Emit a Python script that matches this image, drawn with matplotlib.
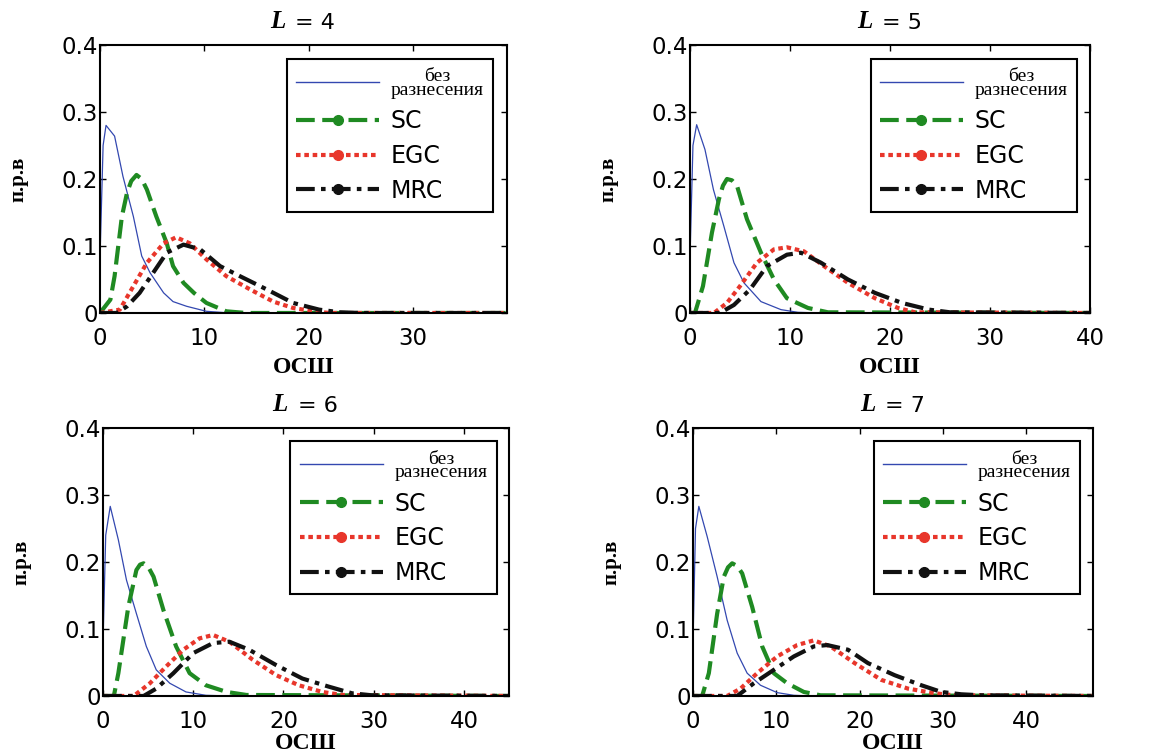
#!/usr/bin/env python3
# PDF of output SNR for SC / EGC / MRC diversity, L = 4..7

import matplotlib
matplotlib.use('Agg')
import matplotlib.pyplot as plt
from matplotlib.lines import Line2D

plt.rcParams['font.family'] = ['DejaVu Sans']

# --- data, one set per panel ---
L_values = [4, 5, 6, 7]
x_limits = [39, 40, 45, 48]
x_ticks = [[0, 10, 20, 30], [0, 10, 20, 30, 40], [0, 10, 20, 30, 40], [0, 10, 20, 30, 40]]

# no diversity
nodiv_x = [
    [0, 0.3, 0.58, 1.4, 2.2, 3.2, 4.0, 4.8, 6.1, 7.0, 8.3, 10.2, 12, 14, 39],
    [0, 0.3, 0.67, 1.5, 2.35, 3.4, 4.4, 5.4, 7.1, 9.1, 10.8, 13, 40],
    [0, 0.3, 0.8, 1.7, 2.6, 3.7, 4.8, 5.9, 7.4, 9.2, 11.4, 14, 45],
    [0, 0.3, 0.7, 1.7, 2.9, 4.1, 5.3, 6.5, 8.1, 10.1, 12.1, 14, 48],
]
nodiv_y = [
    [0.08, 0.25, 0.28, 0.264, 0.204, 0.144, 0.085, 0.06, 0.03, 0.017, 0.01, 0.0025, 0.0005, 0, 0],
    [0.08, 0.25, 0.281, 0.244, 0.184, 0.129, 0.075, 0.045, 0.017, 0.005, 0.001, 0, 0],
    [0.08, 0.24, 0.283, 0.233, 0.173, 0.123, 0.074, 0.039, 0.019, 0.006, 0.001, 0, 0],
    [0.08, 0.25, 0.283, 0.238, 0.178, 0.113, 0.064, 0.034, 0.016, 0.005, 0.001, 0, 0],
]

sc_x = [
    [0, 1.0, 1.4, 2.1, 2.6, 3.0, 3.5, 4.0, 4.5, 5.4, 6.4, 7.0, 8.0, 9.0, 10.2, 12.1, 14, 39],
    [0, 0.5, 1.3, 2.2, 2.9, 3.3, 3.7, 4.2, 4.7, 5.7, 7.1, 8.4, 9.7, 11.8, 13.8, 40],
    [0, 1.2, 1.7, 2.8, 3.7, 4.1, 4.5, 5.0, 5.6, 6.7, 8.1, 9.6, 11.4, 13.7, 15.9, 45],
    [0, 1.1, 1.9, 2.9, 3.7, 4.2, 4.7, 5.3, 5.9, 7.1, 8.3, 9.7, 11.3, 13.3, 15.3, 48],
]
sc_y = [
    [0, 0.02, 0.055, 0.144, 0.18, 0.197, 0.206, 0.2, 0.184, 0.144, 0.104, 0.07, 0.045, 0.03, 0.015, 0.0025, 0, 0],
    [0, 0, 0.04, 0.12, 0.17, 0.19, 0.2, 0.198, 0.19, 0.14, 0.09, 0.05, 0.022, 0.0075, 0.001, 0],
    [0, 0, 0.034, 0.133, 0.188, 0.196, 0.198, 0.193, 0.178, 0.128, 0.074, 0.034, 0.016, 0.006, 0.0015, 0],
    [0, 0, 0.034, 0.123, 0.178, 0.192, 0.198, 0.194, 0.183, 0.133, 0.074, 0.034, 0.019, 0.006, 0.001, 0],
]

egc_x = [
    [0, 1.9, 3.2, 4.5, 6.1, 7.3, 8.6, 10.2, 12.1, 14.4, 16.6, 18.5, 20.4, 22, 39],
    [0, 2.4, 3.7, 5.0, 6.7, 8.4, 9.7, 11.4, 13.4, 15.8, 18.5, 20.8, 22.5, 40],
    [0, 3.4, 5.2, 7.0, 8.9, 10.7, 12.2, 14.0, 16.6, 19.2, 21.7, 24.3, 26.5, 45],
    [0, 4.1, 5.7, 7.7, 10.1, 12.5, 14.5, 16.5, 19.4, 22.6, 25.8, 29.0, 31.4, 48],
]
egc_y = [
    [0, 0.005, 0.04, 0.075, 0.104, 0.113, 0.104, 0.08, 0.055, 0.035, 0.017, 0.0075, 0.0025, 0, 0],
    [0, 0, 0.015, 0.04, 0.075, 0.095, 0.098, 0.092, 0.07, 0.045, 0.022, 0.0075, 0.001, 0],
    [0, 0, 0.019, 0.044, 0.069, 0.086, 0.091, 0.081, 0.054, 0.031, 0.016, 0.006, 0.0015, 0],
    [0, 0, 0.011, 0.034, 0.059, 0.076, 0.083, 0.074, 0.049, 0.024, 0.011, 0.004, 0.001, 0],
]

mrc_x = [
    [0, 1.6, 2.6, 3.8, 5.1, 6.4, 8.0, 9.6, 11.5, 13.4, 16.0, 18.5, 21.0, 23.0, 25, 39],
    [0, 3.0, 4.4, 6.0, 7.7, 9.7, 11.1, 13.1, 15.8, 18.5, 21.2, 23.9, 26.0, 40],
    [0, 4.5, 5.9, 7.8, 10.0, 12.2, 14.0, 16.2, 19.2, 22.1, 25.0, 27.6, 29.8, 45],
    [0, 5.3, 7.3, 9.7, 12.1, 14.5, 16.1, 18.6, 21.0, 24.2, 27.4, 29.8, 32.2, 34.6, 48],
]
mrc_y = [
    [0, 0, 0.01, 0.03, 0.06, 0.09, 0.102, 0.095, 0.07, 0.055, 0.035, 0.015, 0.005, 0.001, 0, 0],
    [0, 0, 0.012, 0.035, 0.07, 0.087, 0.09, 0.075, 0.05, 0.03, 0.015, 0.005, 0.001, 0],
    [0, 0, 0.011, 0.034, 0.064, 0.079, 0.081, 0.069, 0.046, 0.026, 0.014, 0.004, 0.001, 0],
    [0, 0, 0.019, 0.039, 0.059, 0.074, 0.076, 0.069, 0.049, 0.031, 0.016, 0.006, 0.0025, 0.001, 0],
]

legend_labels = ['без\nразнесения', 'SC', 'EGC', 'MRC']

# --- styling ---
c_blue = '#3348b0'
c_green = '#1f8a22'
c_red = '#e8362b'
c_black = '#111111'
ls_sc = (0, (4.5, 1.8))
ls_egc = (0, (1.1, 0.9))
ls_mrc = (0, (4.5, 1.5, 1.1, 1.5))

axes_rects = [
    [0.0853, 0.5838, 0.3473, 0.3564],
    [0.5887, 0.5838, 0.3413, 0.3564],
    [0.0879, 0.0745, 0.3464, 0.3564],
    [0.5913, 0.0745, 0.3413, 0.3564],
]
legend_anchor = [(0.966, 0.948), (0.9675, 0.948), (0.970, 0.951), (0.9675, 0.951)]

fig = plt.figure(figsize=(11.72, 7.52), dpi=100)

for i in range(4):
    ax = fig.add_axes(axes_rects[i])
    ax.plot(nodiv_x[i], nodiv_y[i], color=c_blue, lw=0.9)
    ax.plot(sc_x[i], sc_y[i], color=c_green, lw=3.0, ls=ls_sc)
    ax.plot(egc_x[i], egc_y[i], color=c_red, lw=3.0, ls=ls_egc)
    ax.plot(mrc_x[i], mrc_y[i], color=c_black, lw=3.0, ls=ls_mrc)

    ax.set_xlim(0, x_limits[i])
    ax.set_ylim(0, 0.4)
    ax.set_xticks(x_ticks[i])
    ax.set_yticks([0, 0.1, 0.2, 0.3, 0.4])
    ax.set_yticklabels(['0', '0.1', '0.2', '0.3', '0.4'])
    ax.tick_params(direction='in', top=True, right=True, length=4, width=1,
                   labelsize=16.5)
    ax.tick_params(axis='x', pad=10)
    ax.tick_params(axis='y', pad=1.5)
    for sp in ax.spines.values():
        sp.set_linewidth(1.5)

    ax.set_xlabel('ОСШ', family='Liberation Serif', fontweight='bold',
                  fontsize=17, labelpad=5 if i < 2 else 0)
    ax.set_ylabel('п.р.в', family='Liberation Serif', fontweight='bold',
                  fontsize=15, labelpad=24)

    # title: bold italic serif L + plain "= n"
    ax.text(0.455, 1.045, 'L', transform=ax.transAxes, ha='right', va='bottom',
            family='Liberation Serif', fontweight='bold', style='italic', fontsize=18)
    ax.text(0.48, 1.045, '= %d' % L_values[i], transform=ax.transAxes,
            ha='left', va='bottom', fontsize=16)

    handles = [
        Line2D([], [], color=c_blue, lw=1.0),
        Line2D([], [], color=c_green, lw=3.0, ls=ls_sc, marker='o', ms=7),
        Line2D([], [], color=c_red, lw=3.0, ls=ls_egc, marker='o', ms=7),
        Line2D([], [], color=c_black, lw=3.0, ls=ls_mrc, marker='o', ms=7),
    ]
    leg = ax.legend(handles, legend_labels, loc='upper right',
                    bbox_to_anchor=legend_anchor[i], borderaxespad=0,
                    fontsize=17, handlelength=3.5, handletextpad=0.5,
                    labelspacing=0.45, borderpad=0.4, fancybox=False,
                    framealpha=1, edgecolor='black', numpoints=1)
    leg.get_frame().set_linewidth(1.5)
    t0 = leg.get_texts()[0]
    t0.set_fontfamily('Liberation Serif')
    t0.set_fontsize(14)
    t0.set_multialignment('center')
    t0.set_linespacing(0.72)

fig.savefig('out.png', dpi=100)
